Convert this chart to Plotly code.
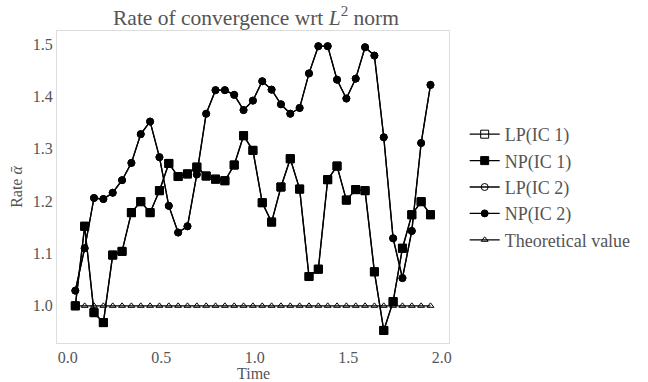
import plotly.graph_objects as go

time = [round(0.04 + 0.05 * k, 2) for k in range(39)]

np_ic1 = [1.000, 1.152, 0.987, 0.968, 1.097, 1.104, 1.178, 1.199, 1.178, 1.220,
          1.272, 1.247, 1.252, 1.265, 1.248, 1.242, 1.239, 1.269, 1.325, 1.297,
          1.197, 1.160, 1.227, 1.281, 1.223, 1.056, 1.070, 1.241, 1.267, 1.202,
          1.222, 1.220, 1.065, 0.953, 1.008, 1.110, 1.174, 1.199, 1.174]
lp_ic1 = list(np_ic1)

np_ic2 = [1.029, 1.110, 1.206, 1.204, 1.216, 1.240, 1.273, 1.328, 1.352, 1.284,
          1.191, 1.140, 1.152, 1.251, 1.367, 1.412, 1.412, 1.403, 1.374, 1.392,
          1.429, 1.413, 1.385, 1.367, 1.378, 1.444, 1.496, 1.496, 1.432, 1.396,
          1.434, 1.494, 1.478, 1.322, 1.129, 1.053, 1.143, 1.311, 1.422]
lp_ic2 = list(np_ic2)

theory = [1.0] * len(time)

names = ["LP(IC 1)", "NP(IC 1)", "LP(IC 2)", "NP(IC 2)", "Theoretical value"]
series = [lp_ic1, np_ic1, lp_ic2, np_ic2, theory]
symbols = ["square-open", "square", "circle-open", "circle", "triangle-up-open"]
sizes = [8, 8, 7, 7, 6]

FONT = "Liberation Serif"
GREY = "#555555"

fig = go.Figure()
for name, ys, sym, sz in zip(names, series, symbols, sizes):
    fig.add_trace(go.Scatter(
        x=time, y=ys, name=name, mode="lines+markers",
        line=dict(color="black", width=1.3),
        marker=dict(symbol=sym, size=sz, color="black",
                    line=dict(color="black", width=1)),
    ))

fig.update_layout(
    width=648, height=382,
    margin=dict(l=57, r=194, t=31, b=39),
    paper_bgcolor="white", plot_bgcolor="white",
    font=dict(family=FONT, color=GREY, size=16),
    title=dict(text="Rate of convergence wrt <i>L</i><sup>2</sup> norm",
               x=256 / 648, xanchor="center", y=0.955, yanchor="middle",
               font=dict(size=21.5, color=GREY, family=FONT)),
    legend=dict(x=1.04, xanchor="left", y=0.5, yanchor="middle",
                font=dict(size=18, color=GREY, family=FONT),
                itemwidth=30,
                bgcolor="rgba(0,0,0,0)", tracegroupgap=0),
    showlegend=True,
    annotations=[dict(text="Time", xref="paper", yref="paper", x=0.5, y=-0.0,
                      yshift=-30, xanchor="center", yanchor="middle",
                      showarrow=False, font=dict(size=16, color=GREY, family=FONT))],
)
fig.update_xaxes(range=[-0.058, 2.039], tickvals=[0, 0.5, 1.0, 1.5, 2.0],
                 ticktext=["0.0", "0.5", "1.0", "1.5", "2.0"],
                 showgrid=False, zeroline=False, showline=True, mirror=True,
                 linecolor="#dddddd", linewidth=1, ticks="", automargin=False,
                 tickfont=dict(size=16))
fig.update_yaxes(range=[0.929, 1.525], tickvals=[1.0, 1.1, 1.2, 1.3, 1.4, 1.5],
                 ticktext=["1.0", "1.1", "1.2", "1.3", "1.4", "1.5"],
                 showgrid=False, zeroline=False, showline=True, mirror=True,
                 linecolor="#dddddd", linewidth=1, ticks="", automargin=False,
                 title=dict(text="Rate <i>ᾱ</i>", standoff=6, font=dict(size=16)),
                 tickfont=dict(size=16))

fig.write_html("out.html")
